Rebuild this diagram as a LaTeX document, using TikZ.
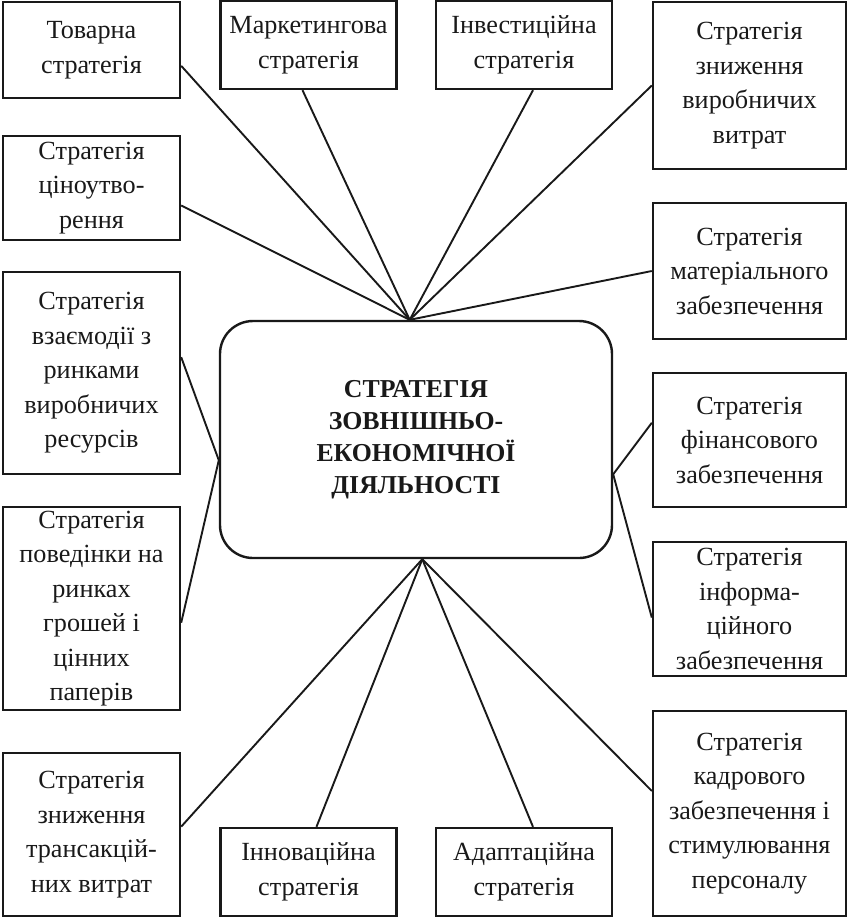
\documentclass[tikz,border=0pt]{standalone}
\usepackage{fontspec}
\setmainfont{Liberation Serif}

\tikzset{
  stratbox/.style={draw, line width=1.2pt, align=center, inner sep=0pt,
    font=\fontsize{13.1}{17.25}\selectfont},
  leftbox/.style={stratbox, minimum width=88.5pt},
  midbox/.style={stratbox, minimum width=88pt, minimum height=44pt},
  rightbox/.style={stratbox, minimum width=96.5pt},
  link/.style={line width=0.95pt}
}

\begin{document}
\begin{tikzpicture}[x=0.5pt, y=-0.5pt, color=black!90]
		\useasboundingbox (0,0) rectangle (848,918);

		% central box
		\node [draw, line width=1.2pt, rounded corners=16.5pt, minimum width=196pt, minimum height=118.5pt,
		       align=center, font=\bfseries\fontsize{12.9}{16}\selectfont] (zed) at (416,439.5)
		       {СТРАТЕГІЯ\\ЗОВНІШНЬО-\\ЕКОНОМІЧНОЇ\\ДІЯЛЬНОСТІ};

		% top row
		\node [leftbox, minimum height=48pt] (tov) at (91.5,50) {Товарна\\стратегія};
		\node [midbox] (mark) at (308.5,45) {Маркетингова\\стратегія};
		\node [midbox] (inv) at (524,45) {Інвестиційна\\стратегія};
		\node [rightbox, minimum height=83.5pt] (vyr) at (749.5,85.5) {Стратегія\\зниження\\виробничих\\витрат};

		% left column
		\node [leftbox, minimum height=52pt] (tsin) at (91.5,188) {Стратегія\\ціноутво-\\рення};
		\node [leftbox, minimum height=101pt] (vz) at (91.5,373) {Стратегія\\взаємодії з\\ринками\\виробничих\\ресурсів};
		\node [leftbox, minimum height=101.5pt] (pov) at (91.5,608.5) {Стратегія\\поведінки на\\ринках\\грошей і\\цінних\\паперів};
		\node [leftbox, minimum height=81.5pt] (tr) at (91.5,834.5) {Стратегія\\зниження\\трансакцій-\\них витрат};

		% right column
		\node [rightbox, minimum height=68pt] (mat) at (749.5,271) {Стратегія\\матеріального\\забезпечення};
		\node [rightbox, minimum height=67pt] (fin) at (749.5,440) {Стратегія\\фінансового\\забезпечення};
		\node [rightbox, minimum height=67pt] (inf) at (749.5,609) {Стратегія\\інформа-\\ційного\\забезпечення};
		\node [rightbox, minimum height=102.5pt] (kad) at (749.5,813.5) {Стратегія\\кадрового\\забезпечення і\\стимулювання\\персоналу};

		% bottom row
		\node [midbox] (inn) at (308.5,872) {Інноваційна\\стратегія};
		\node [midbox] (ad) at (524,872) {Адаптаційна\\стратегія};

		% draw lines from the top of the central box
		\draw [link] (zed.93) -- (tov.-10);
		\draw [link] (zed.93) -- (tsin.-11);
		\draw [link] (zed.93) -- ([xshift=-3pt]mark.south);
		\draw [link] (zed.93) -- ([xshift=4.5pt]inv.south);
		\draw [link] (zed.93) -- (vyr.west);
		\draw [link] (zed.93) -- (mat.west);

		% draw lines from the sides
		\draw [link] (vz.10) -- (zed.186) -- (pov.-9);
		\draw [link] (fin.170) -- (zed.-10) -- (inf.185);

		% draw lines from the bottom
		\draw [link] (zed.-87) -- (tr.5);
		\draw [link] (zed.-87) -- ([xshift=4pt]inn.north);
		\draw [link] (zed.-87) -- ([xshift=4.5pt]ad.north);
		\draw [link] (zed.-87) -- (kad.167);
\end{tikzpicture}
\end{document}
